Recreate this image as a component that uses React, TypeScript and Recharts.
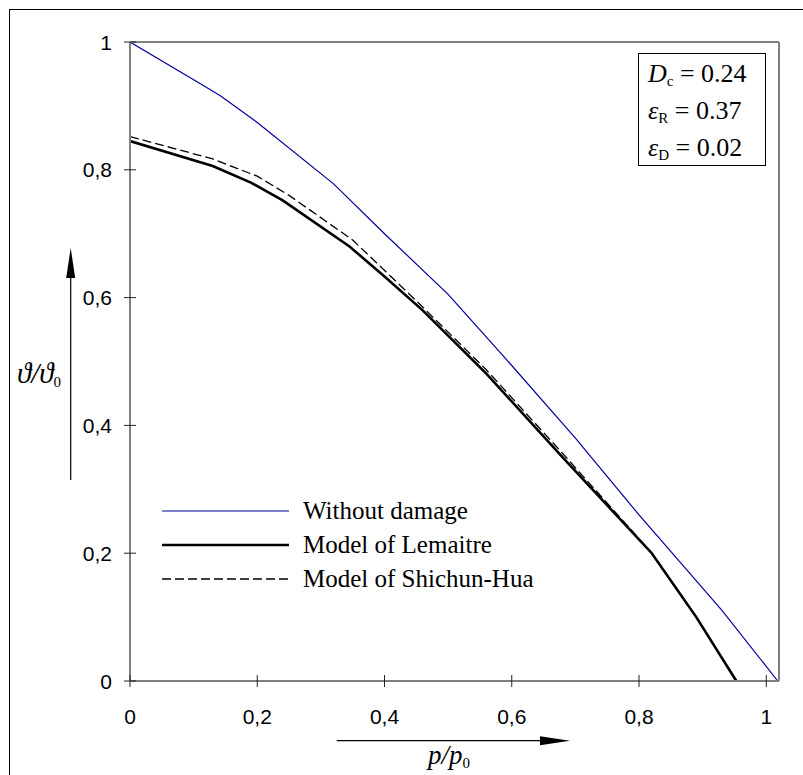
import React from 'react';
import { LineChart, Line, XAxis, YAxis, Legend } from 'recharts';

// p/p0 and theta/theta0
const withoutDamageX = [0, 0.11, 0.142, 0.2, 0.32, 0.4, 0.5, 0.59, 0.7, 0.8, 0.93, 1.018];
const withoutDamageY = [1, 0.935, 0.916, 0.874, 0.778, 0.7, 0.605, 0.505, 0.38, 0.26, 0.111, 0];

const lemaitreX = [0, 0.13, 0.19, 0.24, 0.345, 0.4, 0.46, 0.56, 0.68, 0.82, 0.89, 0.953];
const lemaitreY = [0.845, 0.806, 0.78, 0.752, 0.68, 0.633, 0.58, 0.481, 0.35, 0.2, 0.1, 0];

const shichunX = [0, 0.13, 0.2, 0.25, 0.35, 0.45, 0.56, 0.68, 0.78, 0.82, 0.89, 0.953];
const shichunY = [0.852, 0.817, 0.79, 0.76, 0.69, 0.595, 0.487, 0.356, 0.245, 0.2, 0.1, 0];

const xTicks = [0, 0.2, 0.4, 0.6, 0.8, 1];
const yTicks = [0, 0.2, 0.4, 0.6, 0.8, 1];

const toPoints = (xs: number[], ys: number[]) => xs.map((x, i) => ({ x, y: ys[i] }));

const series = [
  { name: 'Without damage', data: toPoints(withoutDamageX, withoutDamageY), color: '#00009a', width: 1.2, dash: undefined },
  { name: 'Model of Lemaitre', data: toPoints(lemaitreX, lemaitreY), color: '#000000', width: 2.6, dash: undefined },
  { name: 'Model of Shichun-Hua', data: toPoints(shichunX, shichunY), color: '#000000', width: 1.3, dash: '9 4' },
];

const fmt = (v: number) => String(v).replace('.', ',');
const tickFont = '"Liberation Sans", Arial, sans-serif';
const serif = '"Liberation Serif", "Times New Roman", "DejaVu Serif", serif';

const XTick = (props: any) => {
  const { x, y, payload } = props;
  return (
    <g>
      <line x1={x} x2={x} y1={y - 12} y2={y - 6} stroke="#222" />
      <text x={x} y={y + 37} textAnchor="middle" fontFamily={tickFont} fontSize={21} fill="#000">
        {fmt(payload.value)}
      </text>
    </g>
  );
};

const YTick = (props: any) => {
  const { x, y, payload } = props;
  return (
    <g>
      <line x1={x + 6} x2={x + 12} y1={y} y2={y} stroke="#222" />
      <text x={x - 12} y={y + 7.5} textAnchor="end" fontFamily={tickFont} fontSize={21} fill="#000">
        {fmt(payload.value)}
      </text>
    </g>
  );
};

const renderLegend = () => (
  <div style={{ fontFamily: serif, fontSize: 25, color: '#000' }}>
    {series.map((s) => (
      <div key={s.name} style={{ display: 'flex', alignItems: 'center', height: 34 }}>
        <svg width={141} height={10} style={{ display: 'block' }}>
          <line x1={0} x2={127} y1={5} y2={5} stroke={s.color} strokeWidth={s.width} strokeDasharray={s.dash} />
        </svg>
        <span style={{ lineHeight: '34px', whiteSpace: 'nowrap' }}>{s.name}</span>
      </div>
    ))}
  </div>
);

const sub = { fontStyle: 'normal', fontSize: 15, position: 'relative', top: 4 } as React.CSSProperties;
const paramRow = { height: 37, lineHeight: '37px' } as React.CSSProperties;

export default function App() {
  return (
    <div style={{ position: 'absolute', left: 0, top: 0, width: 803, height: 775, background: '#fff' }}>
      <div style={{ position: 'absolute', left: 9, top: 9, width: 820, height: 800, borderLeft: '1px solid #000', borderTop: '1px solid #000' }} />
      <LineChart width={803} height={775} margin={{ top: 41, right: 23, bottom: 54, left: 70 }}>
        <XAxis
          dataKey="x"
          type="number"
          domain={[0, 1.02]}
          ticks={xTicks}
          allowDataOverflow
          height={40}
          stroke="#808080"
          strokeWidth={2}
          tickSize={6}
          tickMargin={0}
          tickLine={{ stroke: '#222', strokeWidth: 1 }}
          tick={<XTick />}
        />
        <XAxis xAxisId="top" orientation="top" height={1} tick={false} tickLine={false} stroke="#808080" strokeWidth={2} />
        <YAxis
          type="number"
          domain={[0, 1]}
          ticks={yTicks}
          width={60}
          stroke="#808080"
          strokeWidth={2}
          tickSize={6}
          tickMargin={0}
          tickLine={{ stroke: '#222', strokeWidth: 1 }}
          tick={<YTick />}
        />
        <YAxis yAxisId="right" orientation="right" width={1} tick={false} tickLine={false} stroke="#808080" strokeWidth={2} />
        {series.map((s) => (
          <Line
            key={s.name}
            data={s.data}
            dataKey="y"
            name={s.name}
            type="linear"
            stroke={s.color}
            strokeWidth={s.width}
            strokeDasharray={s.dash}
            dot={false}
            isAnimationActive={false}
          />
        ))}
        <Legend
          layout="horizontal"
          verticalAlign="middle"
          align="center"
          content={renderLegend}
          wrapperStyle={{ position: 'absolute', left: 162, top: 494, width: 400 }}
        />
      </LineChart>

      {/* parameter box */}
      <div
        style={{
          position: 'absolute', left: 638, top: 53, width: 128, height: 113,
          border: '1px solid #000', fontFamily: serif, fontSize: 26, color: '#000',
          boxSizing: 'border-box', padding: '1px 0 0 9px', whiteSpace: 'nowrap',
        }}
      >
        <div style={paramRow}><i>D</i><span style={sub}>c</span> = 0.24</div>
        <div style={paramRow}><i>ε</i><span style={sub}>R</span> = 0.37</div>
        <div style={paramRow}><i>ε</i><span style={sub}>D</span> = 0.02</div>
      </div>

      {/* axis titles with arrows */}
      <svg width={803} height={775} style={{ position: 'absolute', left: 0, top: 0, pointerEvents: 'none' }}>
        <line x1={70.7} x2={70.7} y1={480} y2={270} stroke="#000" strokeWidth={1.2} />
        <polygon points="70.7,248 66.2,278 75.2,278" fill="#000" />
        <text x={17} y={383} fontFamily={serif} fontStyle="italic" fontSize={29} fill="#000">
          ϑ/ϑ<tspan fontStyle="normal" fontSize={15} dy={4}>0</tspan>
        </text>
        <line x1={336.7} x2={545} y1={740.7} y2={740.7} stroke="#000" strokeWidth={1.2} />
        <polygon points="570,740.7 540,736.2 540,745.2" fill="#000" />
        <text x={428} y={764} fontFamily={serif} fontStyle="italic" fontSize={27} fill="#000">
          p/p<tspan fontStyle="normal" fontSize={15} dy={4}>0</tspan>
        </text>
      </svg>
    </div>
  );
}
